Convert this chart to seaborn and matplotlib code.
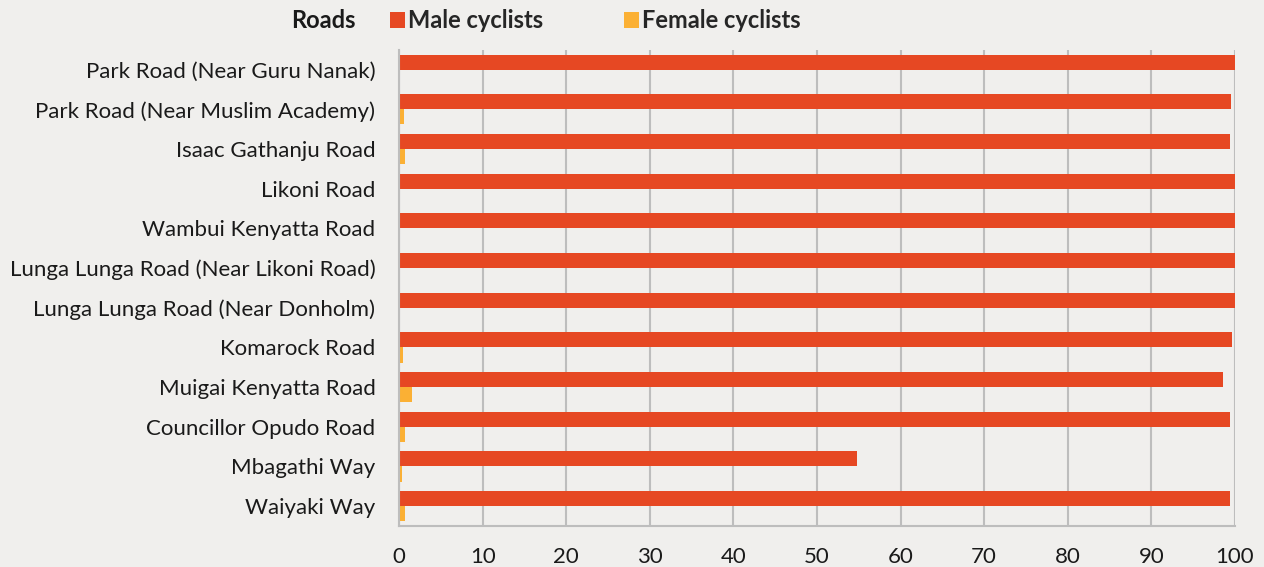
import pandas as pd
import matplotlib
matplotlib.use('Agg')
import matplotlib.pyplot as plt
import seaborn as sns

roads = ['Park Road (Near Guru Nanak)', 'Park Road (Near Muslim Academy)', 'Isaac Gathanju Road',
         'Likoni Road', 'Wambui Kenyatta Road', 'Lunga Lunga Road (Near Likoni Road)',
         'Lunga Lunga Road (Near Donholm)', 'Komarock Road', 'Muigai Kenyatta Road',
         'Councillor Opudo Road', 'Mbagathi Way', 'Waiyaki Way']
male = [100, 99.5, 99.4, 100, 100, 100, 100, 99.6, 98.6, 99.4, 54.8, 99.4]
female = [0, 0.6, 0.7, 0, 0, 0, 0, 0.5, 1.5, 0.7, 0.35, 0.7]
xticks = [0, 10, 20, 30, 40, 50, 60, 70, 80, 90, 100]

bg = '#f0efed'
colors = ['#e64823', '#fbb034']

sns.set_theme(style='white')
plt.rcParams['font.family'] = ['Lato', 'DejaVu Sans']

df = pd.DataFrame({'road': roads * 2,
                   'value': male + female,
                   'sex': ['Male cyclists'] * len(roads) + ['Female cyclists'] * len(roads)})

fig = plt.figure(figsize=(12.64, 5.67), dpi=100, facecolor=bg)
ax = fig.add_axes([0.3157, 0.0723, 0.977 - 0.3157, 0.912 - 0.0723])
ax.set_facecolor(bg)

sns.barplot(data=df, y='road', x='value', hue='sex', order=roads, palette=colors,
            orient='h', width=0.76, gap=0, saturation=1, linewidth=0, edgecolor='none', ax=ax)

ax.set_xlim(0, 100)
ax.set_xticks(xticks)
ax.xaxis.grid(True, color='#bdbdbd', linewidth=1.5)
ax.set_axisbelow(True)
for s in ['top', 'right']:
    ax.spines[s].set_visible(False)
for s in ['left', 'bottom']:
    ax.spines[s].set_color('#bdbdbd')
    ax.spines[s].set_linewidth(1.5)
ax.tick_params(axis='both', length=0, labelsize=16, colors='#1a1a1a')
ax.tick_params(axis='x', pad=15)
ax.tick_params(axis='y', pad=17)
ax.set_xlabel('')
ax.set_ylabel('')

sns.move_legend(ax, 'center left', bbox_to_anchor=(-0.0108, 1.061), ncol=2, frameon=False,
                title=None, handlelength=0.65, handleheight=0.65, handletextpad=0.12,
                columnspacing=3.4, borderpad=0, borderaxespad=0,
                prop={'weight': 'bold', 'size': 17})
fig.text(0.281, 0.963, 'Roads', ha='right', va='center', fontsize=17, fontweight='bold', color='#1a1a1a')

fig.savefig('out.png', dpi=100, facecolor=bg)
